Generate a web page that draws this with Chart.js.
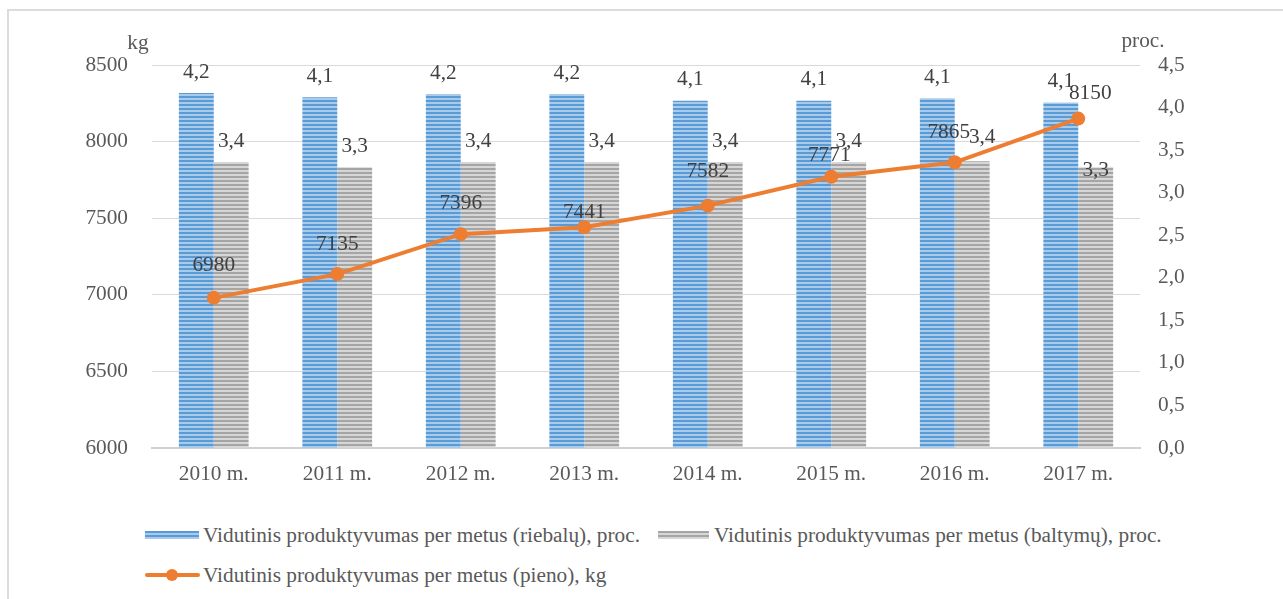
<!DOCTYPE html>
<html>
<head>
<meta charset="utf-8">
<script src="https://cdn.jsdelivr.net/npm/chart.js@4"></script>
<style>
  body { margin:0; background:#fff; font-family:'Liberation Serif','Times New Roman',serif; }
  #frame { position:absolute; left:7px; top:9px; width:1300px; height:700px; border-top:2px solid #dcdcdc; border-left:2px solid #dcdcdc; }
  #wrap { position:absolute; left:0; top:0; width:1283px; height:500px; }
  .lg { position:absolute; font-size:21.3px; color:#595959; white-space:nowrap; line-height:22px; }
  .sw { position:absolute; }
</style>
</head>
<body>
<div id="frame"></div>
<div id="wrap"><canvas id="c"></canvas></div>

<div class="sw" style="left:145px;top:531px;width:54px;height:8px;background:repeating-linear-gradient(to bottom,#5b9bd5 0 2px,#a9cbeb 2px 4px);"></div>
<div class="lg" style="left:203px;top:524px;">Vidutinis produktyvumas per metus (riebalų), proc.</div>
<div class="sw" style="left:658px;top:531px;width:51px;height:8px;background:repeating-linear-gradient(to bottom,#a5a5a5 0 2px,#d6d6d6 2px 4px);"></div>
<div class="lg" style="left:714px;top:524px;">Vidutinis produktyvumas per metus (baltymų), proc.</div>
<div class="sw" style="left:145px;top:573px;width:55px;height:4px;background:#ed7d31;border-radius:2px;"></div>
<div class="sw" style="left:166px;top:569px;width:12px;height:12px;background:#ed7d31;border-radius:50%;"></div>
<div class="lg" style="left:203px;top:564px;">Vidutinis produktyvumas per metus (pieno), kg</div>

<script>
const years = ['2010 m.','2011 m.','2012 m.','2013 m.','2014 m.','2015 m.','2016 m.','2017 m.'];
const fatPct = [4.17, 4.12, 4.16, 4.16, 4.08, 4.08, 4.11, 4.06];
const proteinPct = [3.36, 3.30, 3.36, 3.36, 3.36, 3.36, 3.37, 3.30];
const milkKg = [6980, 7135, 7396, 7441, 7582, 7771, 7865, 8150];

// label nudges (px), like the hand-moved labels in the original
const milkLabelDx = [0, 0, 0, 0, 0, -2, -6, 12];
const milkLabelDy = [-32, -30, -31, -15, -34, -21, -30, -25];
const protLabelDx = [0, 0, 0, 0, 0, 0, 10, 0];
const protLabelDy = [-21, -21, -21, -21, -21, -21, -24, 3];

const txt = '#595959';
const dark = '#404040';
const font = {family:'Liberation Serif', size:21.3};
const comma = v => v.toFixed(1).replace('.', ',');

function stripes(a, b) {
  const p = document.createElement('canvas');
  p.width = 4; p.height = 4;
  const g = p.getContext('2d');
  g.fillStyle = a; g.fillRect(0, 0, 4, 2);
  g.fillStyle = b; g.fillRect(0, 2, 4, 2);
  return g.createPattern(p, 'repeat');
}

const labelPlugin = {
  id: 'labels',
  afterDatasetsDraw(chart) {
    const ctx = chart.ctx;
    ctx.save();
    ctx.font = '21.3px "Liberation Serif"';
    ctx.fillStyle = dark;
    ctx.textAlign = 'center';
    ctx.textBaseline = 'middle';
    chart.getDatasetMeta(0).data.forEach((b, i) => {
      ctx.fillText(comma(fatPct[i]), b.x, b.y - 21);
    });
    chart.getDatasetMeta(1).data.forEach((b, i) => {
      ctx.fillText(comma(proteinPct[i]), b.x + protLabelDx[i], b.y + protLabelDy[i]);
    });
    chart.getDatasetMeta(2).data.forEach((p, i) => {
      ctx.fillText(String(milkKg[i]), p.x + milkLabelDx[i], p.y + milkLabelDy[i]);
    });
    // axis unit titles
    ctx.fillStyle = txt;
    const a = chart.chartArea;
    ctx.fillText('kg', a.left - 14, a.top - 22);
    ctx.fillText('proc.', a.right + 3, a.top - 24);
    ctx.restore();
  }
};

new Chart(document.getElementById('c'), {
  data: {
    labels: years,
    datasets: [
      {type:'bar', label:'Vidutinis produktyvumas per metus (riebalų), proc.', data:fatPct, yAxisID:'yp',
       backgroundColor:stripes('#5b9bd5','#a9cbeb'), categoryPercentage:0.565, barPercentage:1, order:2},
      {type:'bar', label:'Vidutinis produktyvumas per metus (baltymų), proc.', data:proteinPct, yAxisID:'yp',
       backgroundColor:stripes('#a5a5a5','#d6d6d6'), categoryPercentage:0.565, barPercentage:1, order:2},
      {type:'line', label:'Vidutinis produktyvumas per metus (pieno), kg', data:milkKg, yAxisID:'yk',
       borderColor:'#ed7d31', backgroundColor:'#ed7d31', borderWidth:4, pointRadius:7,
       pointBackgroundColor:'#ed7d31', pointBorderWidth:0, tension:0, order:0}
    ]
  },
  options: {
    responsive:true, maintainAspectRatio:false, animation:false,
    layout:{padding:{left:0, right:0, top:65, bottom:0}},
    plugins:{legend:{display:false}, tooltip:{enabled:false}},
    scales: {
      x: {
        grid:{display:false, drawTicks:false},
        border:{color:'#d0d0d0', width:2},
        ticks:{font, color:txt, padding:14},
        afterFit(s){ s.height = 52; }
      },
      yk: {
        position:'left', min:6000, max:8500,
        ticks:{stepSize:500, font, color:txt, padding:24, callback:v => String(v)},
        grid:{color:'#d9d9d9', drawTicks:false},
        border:{display:false},
        afterFit(s){ s.width = 152; }
      },
      yp: {
        position:'right', min:0, max:4.5,
        ticks:{stepSize:0.5, font, color:txt, padding:18, callback:v => comma(v)},
        grid:{display:false, drawTicks:false},
        border:{display:false},
        afterFit(s){ s.width = 143; }
      }
    }
  },
  plugins:[labelPlugin]
});
</script>
</body>
</html>
